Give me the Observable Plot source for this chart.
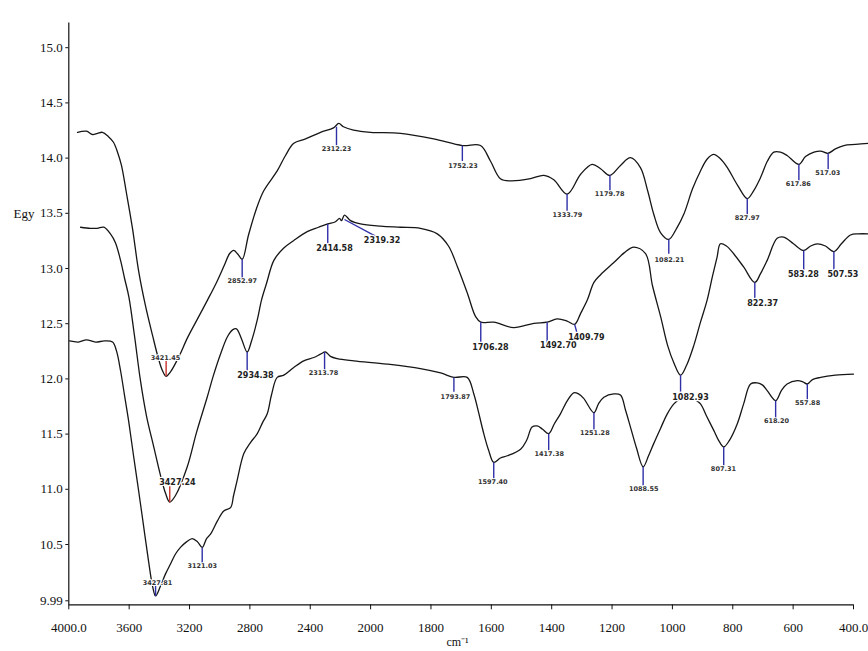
<!DOCTYPE html>
<html><head><meta charset="utf-8">
<script src="https://cdn.jsdelivr.net/npm/d3@7"></script>
<script src="https://cdn.jsdelivr.net/npm/@observablehq/plot@0.6"></script>
<style>
html,body{margin:0;padding:0;background:#fff;}
#chart svg{display:block;}
g[aria-label="mid-labels"] text{letter-spacing:1.6px;}
</style></head><body><div id="chart"></div>
<script>
// x ticks (piecewise wavenumber axis) and y ticks
const xTicks = [4000,3600,3200,2800,2400,2000,1800,1600,1400,1200,1000,800,600,400];
const yTicks = [9.99,10.5,11,11.5,12,12.5,13,13.5,14,14.5,15];
const xLabel = "cm⁻¹";
const yLabel = "Egy";

// top spectrum
const topWn = [3942,3883,3843,3810,3777,3737,3704,3677,3651,3618,3578,3538,3492,3445,3406,3379,3355,3326,3273,3213,3147,3081,3021,2968,2935,2907,2882,2851,2809,2756,2708,2619,2564,2509,2431,2332,2246,2211,2180,2113,2000,1901,1791,1696,1636,1603,1570,1536,1470,1426,1393,1349,1304,1266,1238,1207,1172,1139,1106,1082,1062,1039,1012,986,962,933,907,884,863,841,818,784,752,731,708,685,664,642,620,581,559,531,509,484,460,432,393,350];
const topVal = [14.27,14.28,14.25,14.26,14.27,14.23,14.18,14.09,13.97,13.72,13.40,13.02,12.70,12.43,12.22,12.11,12.06,12.10,12.23,12.41,12.58,12.75,12.91,13.07,13.17,13.20,13.17,13.12,13.34,13.58,13.74,13.92,14.06,14.17,14.21,14.27,14.31,14.35,14.32,14.29,14.27,14.26,14.21,14.15,14.15,14.01,13.85,13.83,13.85,13.88,13.84,13.71,13.89,13.98,13.94,13.88,13.97,14.04,13.95,13.74,13.53,13.36,13.30,13.40,13.53,13.76,13.92,14.03,14.07,14.03,13.95,13.79,13.67,13.74,13.86,14.01,14.09,14.09,14.06,13.98,14.05,14.09,14.10,14.08,14.12,14.15,14.16,14.17];

// middle spectrum
const midWn = [3922,3856,3812,3768,3724,3691,3657,3631,3602,3565,3525,3485,3437,3392,3359,3331,3293,3215,3154,3083,3041,2995,2948,2915,2889,2856,2818,2789,2751,2723,2690,2641,2577,2509,2420,2345,2284,2233,2206,2193,2173,2133,2067,1967,1901,1835,1779,1742,1712,1679,1652,1635,1592,1526,1459,1415,1382,1349,1324,1304,1282,1260,1238,1194,1159,1128,1089,1066,1039,1016,995,973,953,929,907,885,867,852,841,821,797,764,727,708,686,653,631,599,565,542,520,493,465,440,410,384,350];
const midVal = [13.41,13.40,13.40,13.41,13.35,13.27,13.11,12.95,12.78,12.43,12.02,11.70,11.42,11.16,11.00,10.92,10.98,11.24,11.55,11.87,12.07,12.26,12.42,12.48,12.49,12.40,12.28,12.38,12.57,12.75,12.90,13.11,13.22,13.29,13.37,13.41,13.44,13.46,13.49,13.47,13.52,13.47,13.44,13.42,13.41,13.40,13.35,13.24,13.05,12.81,12.60,12.55,12.55,12.50,12.54,12.55,12.58,12.56,12.53,12.63,12.75,12.91,12.98,13.09,13.18,13.23,13.17,12.88,12.60,12.34,12.18,12.07,12.16,12.34,12.55,12.75,12.97,13.14,13.26,13.24,13.17,13.05,12.91,12.99,13.11,13.31,13.32,13.26,13.20,13.24,13.26,13.24,13.19,13.26,13.34,13.35,13.35];

// bottom spectrum
const botWn = [3995,3936,3883,3823,3763,3710,3684,3657,3631,3604,3571,3538,3505,3472,3445,3425,3392,3359,3326,3293,3260,3220,3182,3147,3116,3087,3061,3015,2973,2928,2908,2884,2840,2796,2751,2716,2685,2657,2619,2575,2509,2443,2376,2332,2299,2266,2221,2111,1945,1835,1768,1724,1680,1658,1642,1625,1609,1592,1570,1547,1503,1483,1465,1448,1430,1410,1391,1371,1348,1327,1311,1294,1260,1245,1227,1194,1172,1155,1139,1119,1097,1079,1062,1039,1017,995,973,950,927,907,887,863,847,830,811,785,764,741,719,701,686,658,639,620,586,568,553,536,509,460,400];
const botVal = [12.38,12.37,12.39,12.37,12.38,12.37,12.29,12.11,11.89,11.66,11.34,11.03,10.71,10.39,10.16,10.07,10.16,10.27,10.36,10.45,10.51,10.56,10.59,10.56,10.51,10.59,10.63,10.75,10.84,10.87,10.98,11.12,11.36,11.46,11.54,11.64,11.72,11.89,12.05,12.07,12.14,12.20,12.23,12.26,12.28,12.24,12.22,12.20,12.17,12.13,12.09,12.05,12.05,11.90,11.73,11.54,11.39,11.28,11.32,11.34,11.40,11.48,11.60,11.61,11.58,11.54,11.63,11.72,11.84,11.91,11.90,11.86,11.73,11.81,11.87,11.90,11.89,11.75,11.60,11.41,11.24,11.34,11.45,11.59,11.72,11.81,11.86,11.88,11.85,11.81,11.70,11.57,11.48,11.42,11.48,11.63,11.81,11.99,12.00,11.98,11.93,11.84,11.93,11.99,12.02,12.01,11.99,12.03,12.05,12.07,12.08];

// peak annotations: top spectrum
const topPeakWn = [3355,2851,2226,1696,1349,1207,1012,752,581,484];
const topTickFrom = [12.20,13.12,14.32,14.15,13.71,13.88,13.30,13.67,13.98,14.08];
const topTickTo = [12.06,12.95,14.15,14.01,13.56,13.74,13.17,13.52,13.83,13.93];
const topLabelWn = [3359,2851,2226,1694,1348,1208,1010,752,583,485];
const topLabelVal = [12.23,12.92,14.12,13.97,13.52,13.71,13.11,13.49,13.80,13.90];
const topLabels = ["3421.45","2852.97","2312.23","1752.23","1333.79","1179.78","1082.21","827.97","617.86","517.03"];

// peak annotations: middle spectrum
const midPeakWn = [3331,2818,2284,2173,1635,1415,1324,973,727,565,465];
const midTickEndWn = [3331,2818,2284,1984,1635,1415,1314,973,727,565,465];
const midTickFrom = [11.07,12.28,13.44,13.48,12.55,12.55,12.53,12.07,12.91,13.20,13.19];
const midTickTo = [10.92,12.09,13.26,13.33,12.36,12.36,12.43,11.92,12.76,13.02,13.02];
const midLabelWn = [3280,2763,2239,1962,1603,1378,1285,940,701,566,435];
const midLabelVal = [11.10,12.07,13.22,13.29,12.32,12.34,12.41,11.87,12.72,12.98,12.98];
const midLabels = ["3427.24","2934.38","2414.58","2319.32","1706.28","1492.70","1409.79","1082.93","822.37","583.28","507.53"];

// peak annotations: bottom spectrum
const botPeakWn = [3425,3116,2305,1724,1592,1410,1260,1097,830,658,553];
const botTickFrom = [10.16,10.51,12.28,12.05,11.28,11.54,11.73,11.24,11.42,11.84,11.99];
const botTickTo = [10.07,10.36,12.11,11.92,11.13,11.39,11.57,11.07,11.25,11.68,11.84];
const botLabelWn = [3412,3116,2312,1719,1595,1408,1257,1095,831,655,552];
const botLabelVal = [10.19,10.34,12.09,11.87,11.10,11.36,11.55,11.04,11.22,11.66,11.82];
const botLabels = ["3427.81","3121.03","2313.78","1793.87","1597.40","1417.38","1251.28","1088.55","807.31","618.20","557.88"];

const redLabels = ["3421.45","3427.24"];

const rows = (ws, vs) => ws.map((w, i) => ({w, v: vs[i]}));
const ann = (peak, peak2, from, to, lw, lv, labels) =>
  peak.map((w, i) => ({w, w2: peak2[i], from: from[i], to: to[i], lw: lw[i], lv: lv[i], label: labels[i]}));

const topAnn = ann(topPeakWn, topPeakWn, topTickFrom, topTickTo, topLabelWn, topLabelVal, topLabels);
const midAnn = ann(midPeakWn, midTickEndWn, midTickFrom, midTickTo, midLabelWn, midLabelVal, midLabels);
const botAnn = ann(botPeakWn, botPeakWn, botTickFrom, botTickTo, botLabelWn, botLabelVal, botLabels);
const allAnn = [...topAnn, ...midAnn, ...botAnn];

const curveStyle = {x: "w", y: "v", stroke: "#161616", strokeWidth: 1.3, curve: "catmull-rom"};
const smallText = {x: "lw", y: "lv", text: "label", fontSize: 6.5, fontWeight: "bold",
  fontFamily: "DejaVu Sans", fill: "#333", stroke: "white", strokeWidth: 2, paintOrder: "stroke"};

const plot = Plot.plot({
  width: 868,
  height: 651,
  marginLeft: 68.3,
  marginRight: 15,
  marginTop: 51.2,
  marginBottom: 46.7,
  x: {type: "linear", domain: [4000, 2000, 400], range: [68.3, 370.1, 853]},
  y: {domain: [9.99, 15], range: [604.3, 51.2]},
  color: {type: "identity"},
  style: {fontFamily: "'Liberation Serif', serif", fontSize: "13px", background: "#fff", color: "#111"},
  marks: [
    Plot.ruleX([xTicks[0]], {y1: yTicks[0], y2: 15.26, stroke: "#111", strokeWidth: 1.2}),
    Plot.ruleY([yTicks[0]], {x1: xTicks[0], x2: xTicks[xTicks.length - 1], stroke: "#111", strokeWidth: 1.2}),
    Plot.axisX(xTicks, {tickSize: 5, tickPadding: 13, fontSize: 13, stroke: "#111",
      tickFormat: d => (d === 4000 || d === 400) ? d.toFixed(1) : String(d)}),
    Plot.axisY(yTicks, {tickSize: 3, tickPadding: 3, dy: -4, fontSize: 13, stroke: "#111",
      tickFormat: d => d === 9.99 ? "9.99" : d.toFixed(1)}),
    Plot.text([yLabel], {x: () => 4366, y: () => 13.53, text: d => d, textAnchor: "start", fontSize: 13, fill: "#111"}),
    Plot.text([xLabel], {x: () => 1712, y: () => 9.615, text: d => d, lineAnchor: "bottom", fontSize: 12, fill: "#111"}),
    Plot.line(rows(topWn, topVal), curveStyle),
    Plot.line(rows(midWn, midVal), curveStyle),
    Plot.line(rows(botWn, botVal), curveStyle),
    Plot.link(allAnn, {x1: "w", y1: "from", x2: "w2", y2: "to", strokeWidth: 1.4,
      stroke: d => redLabels.includes(d.label) ? "#c8322a" : "#2f2fa8"}),
    Plot.text(topAnn, smallText),
    Plot.text(botAnn, smallText),
    Plot.text(midAnn, {x: "lw", y: "lv", text: "label", fontSize: 8, fontWeight: "bold",
      fontFamily: "DejaVu Sans", fill: "#222", stroke: "white", strokeWidth: 2.5, paintOrder: "stroke",
      ariaLabel: "mid-labels"})
  ]
});
document.getElementById("chart").appendChild(plot);
</script>
</body></html>
